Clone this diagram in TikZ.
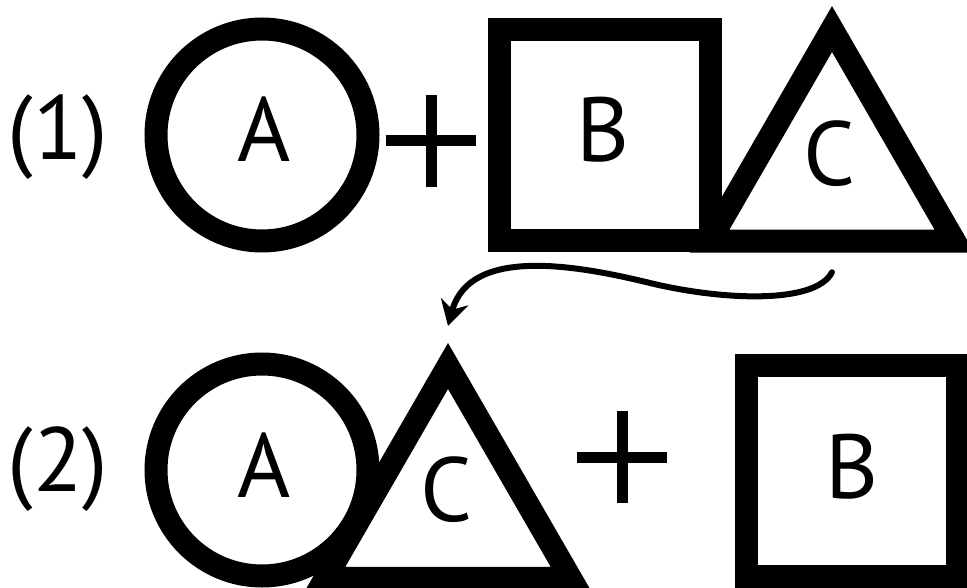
\documentclass[tikz,border=0pt]{standalone}
\usepackage{fontspec}
\setmainfont{PT Sans}
\usetikzlibrary{shapes.geometric,arrows.meta}

\begin{document}
\begin{tikzpicture}[x=1pt,y=-1pt,
    every node/.style={font=\fontsize{91}{100}\selectfont},
    ring/.style={circle,draw,line width=23pt,minimum size=212pt,inner sep=0pt,outer sep=0pt},
    box/.style={rectangle,draw,line width=23pt,minimum size=210.5pt,inner sep=0pt,outer sep=0pt},
    tri/.style={regular polygon,regular polygon sides=3,draw,line width=23pt,minimum size=283pt,inner sep=0pt,outer sep=0pt},
    lbl/.style={anchor=base},
    plusbar/.style={line width=11pt},
    move/.style={line width=6pt,line cap=round,-{Stealth[length=25pt,width=28pt,inset=8pt]}},
  ]
  \useasboundingbox (0,0) rectangle (967,588);
  % step (1)
  \node[ring] (circ1) at (262,135) {};
  \node[box] (sq1) at (605,135) {};
  \node[tri] (tri1) at (832,170.5) {};
  % step (2)
  \node[ring] (circ2) at (262,470) {};
  \node[tri] (tri2) at (448,507.5) {};
  \node[box] (sq2) at (852,471) {};
  % letters
  \node[lbl] (num1) at (58,160) {(1)};
  \node[lbl] (num2) at (58,491) {(2)};
  \node[lbl] (a1) at (264,162) {A};
  \node[lbl] (b1) at (603,162) {B};
  \node[lbl] (c1) at (829,186) {C};
  \node[lbl] (a2) at (264,497) {A};
  \node[lbl] (c2) at (446,521) {C};
  \node[lbl] (b2) at (852,498) {B};
  % plus signs
  \foreach \px/\py in {431/141, 622/457} {
    \draw[plusbar] (\px-45,\py) -- (\px+45,\py) (\px,\py-46) -- (\px,\py+46);
  }
  % C moves over to A
  \coordinate (from) at ([yshift=-31pt]tri1.side 2);
  \coordinate (to) at ([yshift=40pt]tri2.corner 1);
  \draw[move] (from) .. controls (815,305) and (720,300) .. (650,283)
    .. controls (580,266) and (470,245) .. (to);
\end{tikzpicture}
\end{document}
